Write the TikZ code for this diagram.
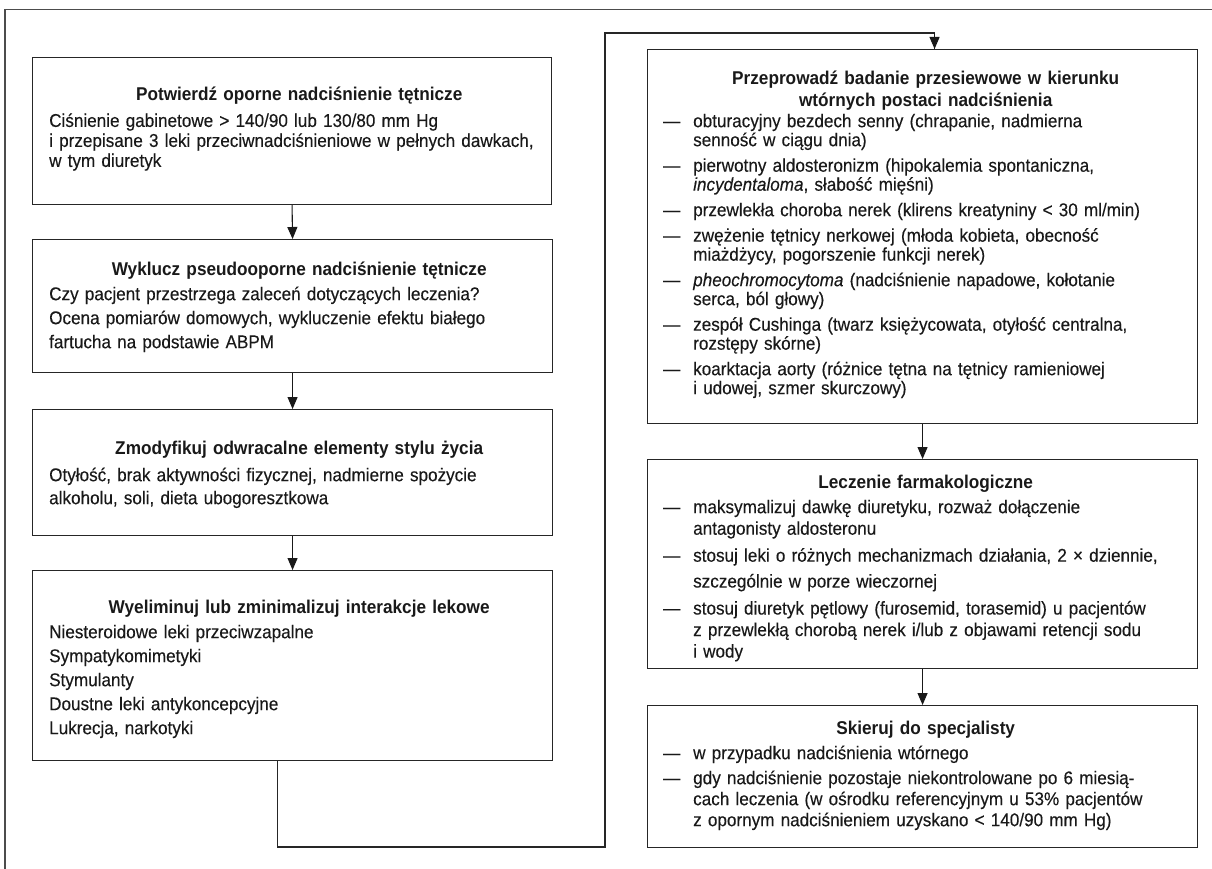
\documentclass[tikz,border=0pt]{standalone}
\usepackage{fontspec}
\setmainfont{Liberation Sans}[FakeStretch=0.925, FakeBold=0.25]
\newfontfamily\ttlfont{Liberation Sans}[FakeStretch=0.93]
\usetikzlibrary{arrows.meta,calc}
\newlength{\itemgap}
\newcommand{\ttl}[2][\baselineskip]{{\centering\ttlfont\bfseries\setlength{\baselineskip}{#1}\rule{0pt}{14pt}#2\par}}
\newcommand{\itm}[1]{\par\vspace{\itemgap}\hangindent=30pt\hangafter=1\noindent\makebox[30pt][l]{—}#1\par}
\newcommand{\lne}[1]{\mbox{#1}}
\begin{document}
\begin{tikzpicture}[x=1pt,y=-1pt,
  frame/.style={draw=black!70, line width=1.4pt},
  box/.style={draw=black!85, line width=1.1pt, rectangle, inner sep=0pt, anchor=north west},
  txt/.style={inner sep=0pt, anchor=north west, text width=#1, text=black!90},
  arr/.style={draw=black!90, line width=1.1pt, -{Triangle[width=10pt,length=12pt]}},
  link/.style={draw=black!85, line width=1.1pt}]
\useasboundingbox (0,0) rectangle (1212,869);
% outer frame (top and left)
\coordinate (fa) at (5,869);
\coordinate (fb) at (5,9.5);
\coordinate (fc) at (1212,9.5);
\draw[frame] (fa) -- (fb) -- (fc);

% left column boxes
\node[box, minimum width=519pt, minimum height=147pt] (b1) at (32,57) {};
\node[box, minimum width=520pt, minimum height=133pt] (b2) at (32,239) {};
\node[box, minimum width=520pt, minimum height=126pt] (b3) at (32,409) {};
\node[box, minimum width=520pt, minimum height=190pt] (b4) at (32,570) {};
% right column boxes
\node[box, minimum width=550pt, minimum height=374pt] (b5) at (647,49) {};
\node[box, minimum width=550pt, minimum height=209pt] (b6) at (647,459) {};
\node[box, minimum width=550pt, minimum height=142pt] (b7) at (647,705) {};

% texts
\node[txt=500pt, font=\fontsize{18.5}{20}\selectfont] (t1) at (49,86.7) {\ttl{Potwierdź oporne nadciśnienie tętnicze}\vspace{6pt}\raggedright
\lne{Ciśnienie gabinetowe > 140/90 lub 130/80 mm Hg}\newline
\lne{i przepisane 3 leki przeciwnadciśnieniowe w pełnych dawkach,}\newline
\lne{w tym diuretyk}};

\node[txt=500pt, font=\fontsize{18.5}{24}\selectfont] (t2) at (49,261) {\ttl{Wyklucz pseudooporne nadciśnienie tętnicze}\vspace{1pt}\raggedright
\lne{Czy pacjent przestrzega zaleceń dotyczących leczenia?}\newline
\lne{Ocena pomiarów domowych, wykluczenie efektu białego}\newline
\lne{fartucha na podstawie ABPM}};

\node[txt=500pt, font=\fontsize{18.5}{23}\selectfont] (t3) at (49,440) {\ttl{Zmodyfikuj odwracalne elementy stylu życia}\vspace{4pt}\raggedright
\lne{Otyłość, brak aktywności fizycznej, nadmierne spożycie}\newline
\lne{alkoholu, soli, dieta ubogoresztkowa}};

\node[txt=500pt, font=\fontsize{18.5}{24}\selectfont] (t4) at (49,599.5) {\ttl{Wyeliminuj lub zminimalizuj interakcje lekowe}\vspace{0.5pt}\raggedright
\lne{Niesteroidowe leki przeciwzapalne}\newline
\lne{Sympatykomimetyki}\newline
\lne{Stymulanty}\newline
\lne{Doustne leki antykoncepcyjne}\newline
\lne{Lukrecja, narkotyki}};

\node[txt=525pt, font=\fontsize{18.5}{19}\selectfont] (t5) at (663,70.5) {\ttl[22pt]{Przeprowadź badanie przesiewowe w kierunku\\wtórnych postaci nadciśnienia}\raggedright\setlength{\itemgap}{1.5pt}%
\itm{\lne{obturacyjny bezdech senny (chrapanie, nadmierna}\newline\lne{senność w ciągu dnia)}}\setlength{\itemgap}{6.5pt}%
\itm{\lne{pierwotny aldosteronizm (hipokalemia spontaniczna,}\newline\lne{\textit{incydentaloma}, słabość mięśni)}}%
\itm{\lne{przewlekła choroba nerek (klirens kreatyniny < 30 ml/min)}}%
\itm{\lne{zwężenie tętnicy nerkowej (młoda kobieta, obecność}\newline\lne{miażdżycy, pogorszenie funkcji nerek)}}%
\itm{\lne{\textit{pheochromocytoma} (nadciśnienie napadowe, kołotanie}\newline\lne{serca, ból głowy)}}%
\itm{\lne{zespół Cushinga (twarz księżycowata, otyłość centralna,}\newline\lne{rozstępy skórne)}}%
\itm{\lne{koarktacja aorty (różnice tętna na tętnicy ramieniowej}\newline\lne{i udowej, szmer skurczowy)}}};

\node[txt=525pt, font=\fontsize{18.5}{21.5}\selectfont] (t6) at (663,474.5) {\ttl{Leczenie farmakologiczne}\raggedright\setlength{\itemgap}{3pt}%
\itm{\lne{maksymalizuj dawkę diuretyku, rozważ dołączenie}\newline\lne{antagonisty aldosteronu}}\setlength{\itemgap}{5.5pt}%
\itm{\lne{stosuj leki o różnych mechanizmach działania, 2 × dziennie,}\newline\lne{\rule{0pt}{21pt}szczególnie w porze wieczornej}}%
\itm{\lne{stosuj diuretyk pętlowy (furosemid, torasemid) u pacjentów}\newline\lne{z przewlekłą chorobą nerek i/lub z objawami retencji sodu}\newline\lne{i wody}}};

\node[txt=525pt, font=\fontsize{18.5}{21}\selectfont] (t7) at (663,720) {\ttl{Skieruj do specjalisty}\raggedright\setlength{\itemgap}{4pt}%
\itm{\lne{w przypadku nadciśnienia wtórnego}}\setlength{\itemgap}{4pt}%
\itm{\lne{gdy nadciśnienie pozostaje niekontrolowane po 6 miesią-}\newline\lne{cach leczenia (w ośrodku referencyjnym u 53\% pacjentów}\newline\lne{z opornym nadciśnieniem uzyskano < 140/90 mm Hg)}}};

% connectors
\draw[arr] (b1.south) -- (b2.north);
\draw[arr] (b2.south) -- (b3.north);
\draw[arr] (b3.south) -- (b4.north);
\draw[arr] (b5.south) -- (b6.north);
\draw[arr] (b6.south) -- (b7.north);
\coordinate (l1) at (605,847);
\coordinate (l2) at (605,33);
\coordinate (ls) at ([xshift=-15pt]b4.south);
\coordinate (le) at ([xshift=12pt]b5.north);
\draw[link] (ls) |- (l1) -- (l2) -| (le);
\draw[arr] (le |- l2) -- (le);
\end{tikzpicture}
\end{document}
